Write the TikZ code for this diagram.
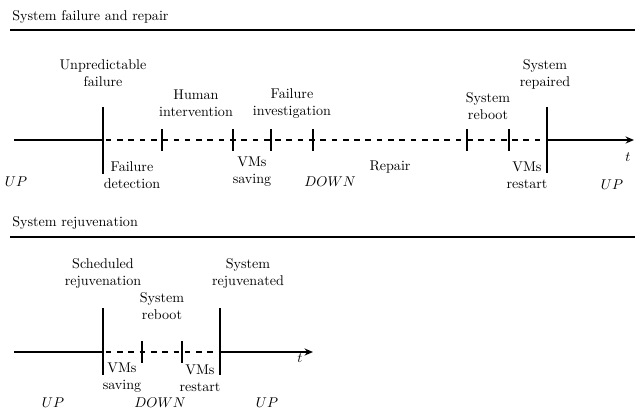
\documentclass[tikz,border=0pt]{standalone}
\usepackage{fontspec}
\usetikzlibrary{arrows.meta}
\begin{document}
\begin{tikzpicture}[x=0.7087pt,y=-0.7087pt,
  lbl/.style={align=center, inner sep=0pt},
  hdr/.style={anchor=west, inner sep=0pt},
  rulel/.style={line width=1pt},
  solidaxis/.style={line width=1pt},
  dashaxis/.style={line width=1pt, dash pattern=on 4pt off 4pt, dash phase=-2pt},
  tickl/.style={line width=1pt},
  arrowaxis/.style={line width=1pt, -{Stealth[length=6pt,width=5pt]}}]
\useasboundingbox (0,0) rectangle (635,411);

% ---------- Section 1 ----------
\node[hdr] (h1) at (12,17) {System failure and repair};
\coordinate (r1a) at (10,30);
\coordinate (r1b) at (635,30);
\draw[rulel] (r1a) -- (r1b);

\coordinate (a0) at (14,140);
\coordinate (a1) at (103,140);
\coordinate (a2) at (547,140);
\coordinate (aend) at (634,140);
\draw[solidaxis] (a0) -- (a1);
\draw[dashaxis] (a1) -- (a2);
\draw[arrowaxis] (a2) -- (aend);

% big ticks
\coordinate (b1t) at (103,107); \coordinate (b1b) at (103,174);
\coordinate (b2t) at (547,107); \coordinate (b2b) at (547,173);
\draw[tickl] (b1t) -- (b1b);
\draw[tickl] (b2t) -- (b2b);
% small ticks
\foreach \x/\n in {162/s1,233/s2,271/s3,313/s4,467/s5,509/s6}{
  \coordinate (\n t) at (\x,129);
  \coordinate (\n b) at (\x,151);
  \draw[tickl] (\n t) -- (\n b);
}

\node[lbl] (unp) at (103,73.5) {Unpredictable\\failure};
\node[lbl] (hum) at (196,103.5) {Human\\intervention};
\node[lbl] (inv) at (292,103.5) {Failure\\investigation};
\node[lbl] (reb1) at (488,106) {System\\reboot};
\node[lbl] (rep) at (545,74.5) {System\\repaired};
\node[lbl] (det) at (132,175) {Failure\\detection};
\node[lbl] (sav1) at (252,171.5) {VMs\\saving};
\node[lbl] (repair) at (390,167) {Repair};
\node[lbl] (rst1) at (527,175) {VMs\\restart};
\node[lbl] (up1) at (16,182) {$UP$};
\node[lbl] (down1) at (330,182) {$DOWN$};
\node[lbl] (up2) at (612,185) {$UP$};
\node[lbl] (t1) at (628,157) {$t$};

% ---------- Section 2 ----------
\node[hdr] (h2) at (12,223) {System rejuvenation};
\coordinate (r2a) at (10,237);
\coordinate (r2b) at (635,237);
\draw[rulel] (r2a) -- (r2b);

\coordinate (c0) at (14,352);
\coordinate (c1) at (103,352);
\coordinate (c2) at (220,352);
\coordinate (cend) at (313,352);
\draw[solidaxis] (c0) -- (c1);
\draw[dashaxis] (c1) -- (c2);
\draw[arrowaxis] (c2) -- (cend);

\coordinate (d1t) at (103,308); \coordinate (d1b) at (103,375);
\coordinate (d2t) at (220,308); \coordinate (d2b) at (220,375);
\draw[tickl] (d1t) -- (d1b);
\draw[tickl] (d2t) -- (d2b);
\foreach \x/\n in {142/e1,182/e2}{
  \coordinate (\n t) at (\x,341);
  \coordinate (\n b) at (\x,363);
  \draw[tickl] (\n t) -- (\n b);
}

\node[lbl] (sch) at (103,273.5) {Scheduled\\rejuvenation};
\node[lbl] (rej) at (248,273.5) {System\\rejuvenated};
\node[lbl] (reb2) at (162,306.5) {System\\reboot};
\node[lbl] (sav2) at (122,378) {VMs\\saving};
\node[lbl] (rst2) at (200,378) {VMs\\restart};
\node[lbl] (t2) at (300,358) {$t$};
\node[lbl] (up3) at (53,403) {$UP$};
\node[lbl] (down2) at (160,403) {$DOWN$};
\node[lbl] (up4) at (267,403) {$UP$};
\end{tikzpicture}
\end{document}
